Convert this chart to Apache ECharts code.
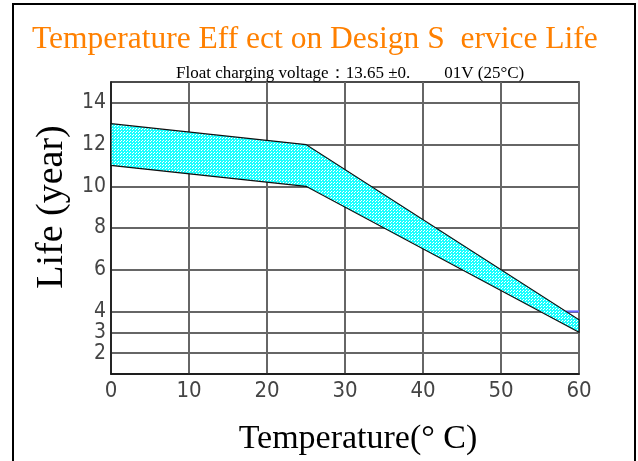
<!DOCTYPE html>
<html>
<head>
<meta charset="utf-8">
<script src="https://cdn.jsdelivr.net/npm/echarts@6/dist/echarts.min.js"></script>
<style>html,body{margin:0;padding:0;background:#fff;}#c{width:638px;height:461px;}</style>
</head>
<body>
<div id="c"></div>
<script>
// ---- data ----
var titleText = 'Temperature Eff ect on Design S  ervice Life';
var subtitleText = 'Float charging voltage\uFF1A13.65 \u00B10.        01V (25\u00B0C)';
var xName = 'Temperature(\u00B0 C)';
var yName = 'Life (year)';
var xTicks = [0, 10, 20, 30, 40, 50, 60];
var yTicks = [2, 3, 4, 6, 8, 10, 12, 14];
var bandX = [0, 25, 60];
var bandUpper = [13, 12, 3.6];
var bandLower = [11, 10, 3];
var blueLineX = [58.3, 60];
var blueLineY = [4, 4];

// ---- white-dot overlay pattern (transparent background) ----
var pc = document.createElement('canvas');
pc.width = 3; pc.height = 3;
var pctx = pc.getContext('2d');
pctx.clearRect(0, 0, 3, 3);
pctx.fillStyle = 'rgba(255,255,255,1)';
pctx.fillRect(0, 0, 1, 1);
pctx.fillRect(1, 2, 1, 1);

var tickFont = "'Liberation Sans Narrow','DejaVu Sans Condensed','Roboto Condensed',sans-serif";
var serif = "'Liberation Serif','Times New Roman',serif";

var chart = echarts.init(document.getElementById('c'), null, {renderer: 'canvas'});
chart.setOption({
  animation: false,
  backgroundColor: '#fff',
  title: [
    {text: titleText, left: 32, top: 24, padding: 0,
     textStyle: {color: '#ff8000', fontFamily: serif, fontSize: 31.5, fontWeight: 'normal'}},
    {text: subtitleText, left: 176, top: 65, padding: 0,
     textStyle: {color: '#000', fontFamily: serif, fontSize: 17, fontWeight: 'normal'}}
  ],
  graphic: [
    {type: 'rect', shape: {x: 13, y: 4, width: 622, height: 520},
     style: {fill: 'none', stroke: '#000', lineWidth: 2}, silent: true}
  ],
  grid: {left: 111, right: 59, top: 82, bottom: 82, show: true, borderColor: '#111', borderWidth: 1.5, backgroundColor: 'transparent'},
  xAxis: {
    type: 'value', min: 0, max: 60, interval: 10,
    name: xName, nameLocation: 'middle', nameGap: 48,
    nameTextStyle: {fontFamily: serif, fontSize: 34, color: '#000', padding: [0, 0, 0, 26]},
    axisLine: {show: true, lineStyle: {color: '#111', width: 1.5}},
    axisTick: {show: false},
    axisLabel: {margin: 6, fontFamily: tickFont, fontSize: 22, color: '#444',
      formatter: function (v) { return xTicks.indexOf(v) >= 0 ? String(v) : ''; }},
    splitLine: {show: true, lineStyle: {color: '#666', width: 2}}
  },
  yAxis: {
    type: 'value', min: 1, max: 15,
    name: yName, nameLocation: 'middle', nameGap: 30, nameRotate: 90,
    nameTextStyle: {fontFamily: serif, fontSize: 38, color: '#000', padding: [0, 0, 0, 42]},
    axisLine: {show: true, lineStyle: {color: '#111', width: 1.5}},
    axisTick: {show: false, customValues: yTicks},
    axisLabel: {margin: 5, fontFamily: tickFont, fontSize: 21, lineHeight: 14, color: '#444',
      customValues: yTicks, hideOverlap: false, showMinLabel: true, showMaxLabel: true},
    splitLine: {show: true, lineStyle: {color: '#333', width: 1.5}}
  },
  series: [
    {
      type: 'line', data: blueLineX.map(function (x, i) { return [x, blueLineY[i]]; }),
      symbol: 'none', lineStyle: {color: '#6666ff', width: 2}, z: 3
    },
    {
      type: 'custom',
      data: bandX.map(function (x, i) { return [x, bandLower[i], bandUpper[i]]; }),
      encode: {x: 0, y: [1, 2]},
      z: 4,
      renderItem: function (params, api) {
        if (params.dataIndex !== 0) return null;
        var pts = [];
        for (var i = 0; i < bandX.length; i++) pts.push(api.coord([bandX[i], bandUpper[i]]));
        for (var j = bandX.length - 1; j >= 0; j--) pts.push(api.coord([bandX[j], bandLower[j]]));
        return {
          type: 'group',
          children: [
            {type: 'polygon', shape: {points: pts}, style: {fill: '#1affff', stroke: null}},
            {type: 'polygon', shape: {points: pts}, style: {fill: {image: pc, repeat: 'repeat'}, stroke: null}},
            {type: 'polygon', shape: {points: pts}, style: {fill: 'none', stroke: '#111', lineWidth: 1.2}}
          ]
        };
      }
    }
  ]
});
</script>
</body>
</html>
